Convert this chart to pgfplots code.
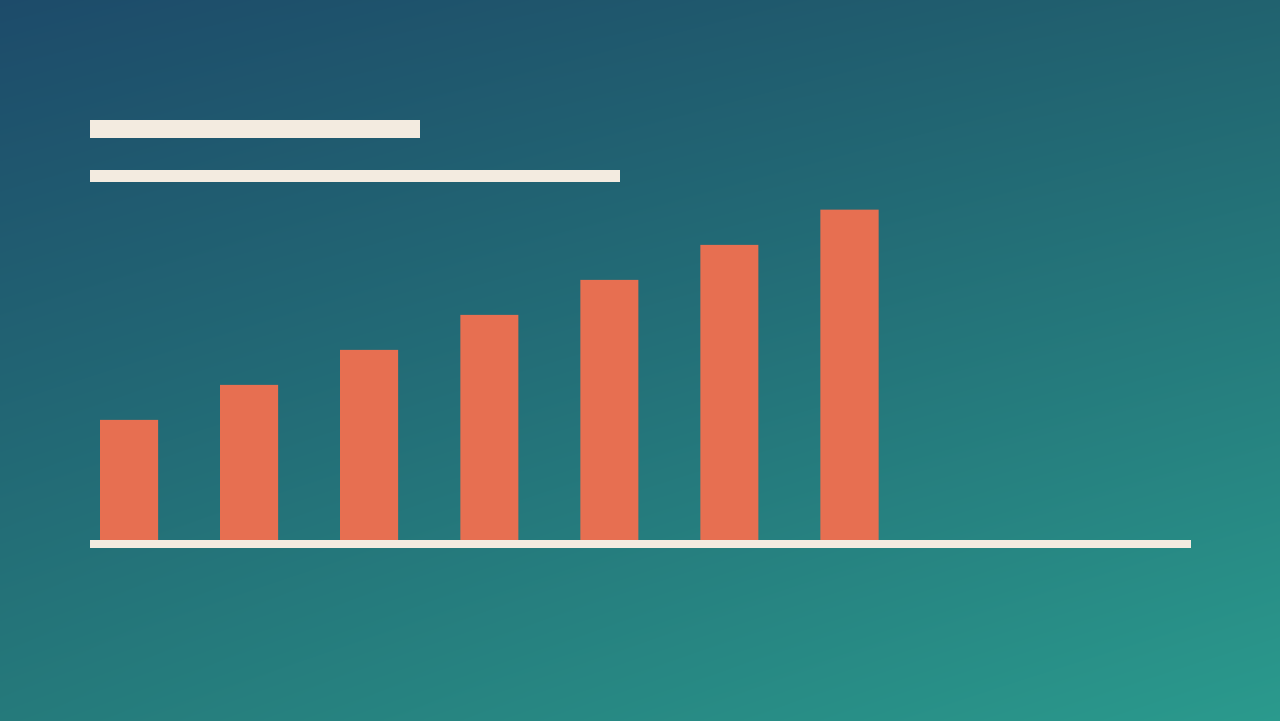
\documentclass[border=0pt]{standalone}
\usepackage{pgfplots}
\pgfplotsset{compat=1.18}
\usetikzlibrary{shadings}
\definecolor{bgA}{HTML}{1D4B6A}
\definecolor{bgB}{HTML}{2A9A8D}
\definecolor{bgUR}{HTML}{21626F}
\definecolor{bgLL}{HTML}{257A7B}
\definecolor{cream}{HTML}{F3EBE0}
\definecolor{coral}{HTML}{E76F51}
\begin{document}
\begin{tikzpicture}[x=0.01cm,y=0.01cm]
\shade[upper left=bgA, upper right=bgUR, lower left=bgLL, lower right=bgB] (0,0) rectangle (1280,720);
\begin{axis}[
  at={(0,0)}, anchor=south west,
  scale only axis, width=12.8cm, height=7.2cm,
  xmin=0, xmax=1280, ymin=-180, ymax=540,
  hide axis, clip=false,
]
\fill[cream] (axis cs:90,-8) rectangle (axis cs:1190,0);
\addplot[ybar, bar width=58, fill=coral, draw=none, bar shift=0pt]
  coordinates {(129,120) (249,155) (369,190) (489,225) (609,260) (729,295) (849,330)};
\fill[cream] (axis cs:90,402) rectangle (axis cs:420,420);
\fill[cream] (axis cs:90,358) rectangle (axis cs:620,370);
\end{axis}
\end{tikzpicture}
\end{document}
